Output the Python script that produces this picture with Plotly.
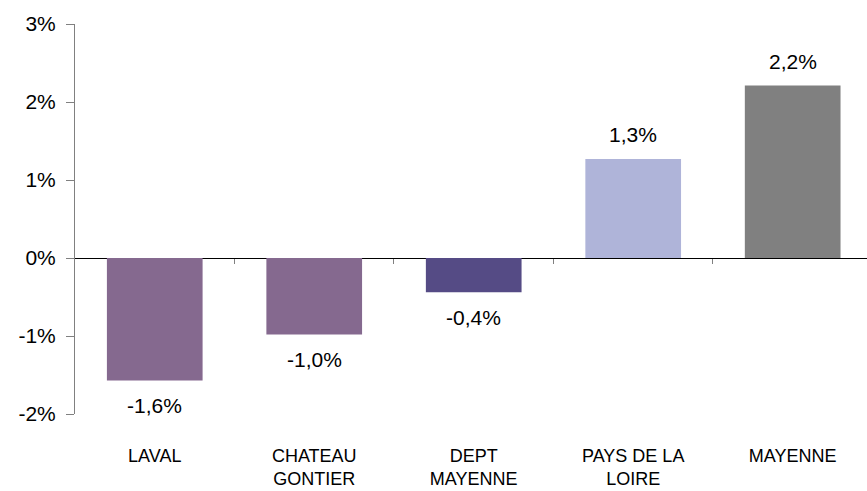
import plotly.graph_objects as go

categories = ["LAVAL", "CHATEAU<br>GONTIER", "DEPT<br>MAYENNE", "PAYS DE LA<br>LOIRE", "MAYENNE"]
values = [-1.57, -0.98, -0.44, 1.27, 2.21]
labels = ["-1,6%", "-1,0%", "-0,4%", "1,3%", "2,2%"]
colors = ["#85698F", "#85698F", "#554B85", "#AFB4D9", "#808080"]
y_ticks = [-2, -1, 0, 1, 2, 3]
y_tick_text = ["-2%", "-1%", "0%", "1%", "2%", "3%"]
boundaries = [0.5, 1.5, 2.5, 3.5]

FONT = "Liberation Sans, Arial, sans-serif"
x_range = [-0.5, 4.466]

fig = go.Figure()
fig.add_trace(go.Bar(
    x=categories, y=values, marker=dict(color=colors, line=dict(width=0)),
    width=0.6, hoverinfo="skip", showlegend=False,
))
# empty trace so the boundary-tick axis at the zero line is drawn
fig.add_trace(go.Scatter(x=[], y=[], xaxis="x2", yaxis="y", showlegend=False,
                         hoverinfo="skip"))

for c, v, t in zip(categories, values, labels):
    fig.add_annotation(
        x=c, y=v, text=t, showarrow=False, yanchor="middle",
        yshift=24 if v >= 0 else -25,
        font=dict(family=FONT, size=21, color="#000000"),
    )

fig.update_layout(
    width=867, height=491,
    margin=dict(l=75, r=0, t=24, b=77),
    paper_bgcolor="white", plot_bgcolor="white",
    font=dict(family=FONT, color="#000000"),
    bargap=0.4,
    xaxis=dict(
        type="category", range=x_range, showline=False, showgrid=False,
        zeroline=False, ticks="", tickfont=dict(size=18, family=FONT),
        ticklabelstandoff=29, automargin=False,
    ),
    xaxis2=dict(
        overlaying="x", anchor="free", position=0.4, range=x_range,
        type="linear",
        tickmode="array", tickvals=boundaries, ticks="outside", ticklen=5,
        tickcolor="#808080", tickwidth=1, showticklabels=False,
        showline=False, showgrid=False, zeroline=False, automargin=False,
    ),
    yaxis=dict(
        range=[-2, 3], tickmode="array", tickvals=y_ticks, ticktext=y_tick_text,
        showline=True, linecolor="#808080", linewidth=1,
        ticks="outside", ticklen=8, tickcolor="#808080",
        showgrid=False, zeroline=True, zerolinecolor="#000000", zerolinewidth=1,
        tickfont=dict(size=21, family=FONT), ticklabelstandoff=6,
        automargin=False,
    ),
)

fig.write_html(
    "out.html",
    config={"displayModeBar": False},
    post_script="document.body.style.margin='0';document.body.style.overflow='hidden';",
)
